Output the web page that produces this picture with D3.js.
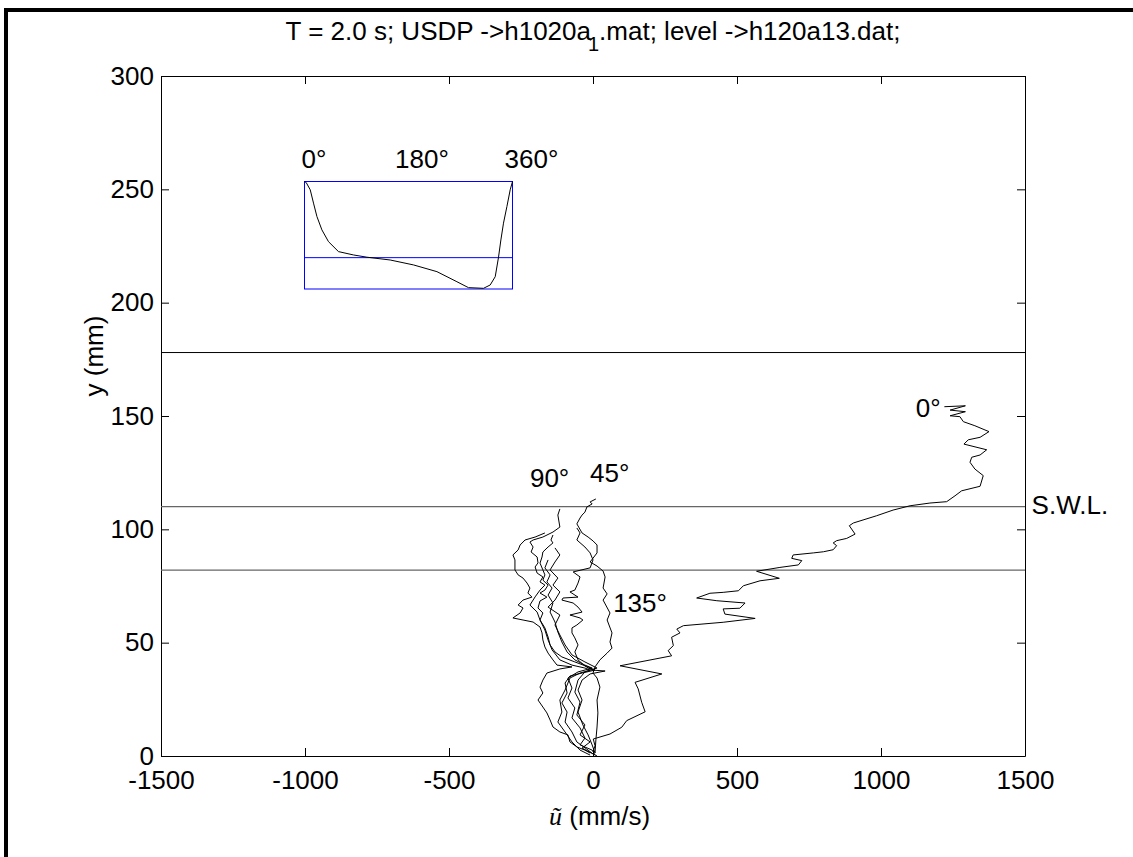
<!DOCTYPE html>
<html>
<head>
<meta charset="utf-8">
<script src="https://cdn.jsdelivr.net/npm/d3@7"></script>
<style>
  body { margin: 0; background: #fff; }
  text { font-family: Arial, "Liberation Sans", sans-serif; fill: #000; }
</style>
</head>
<body>
<div id="chart"></div>
<script>
// axis ticks
var uTicks = [-1500, -1000, -500, 0, 500, 1000, 1500];
var yTicks = [0, 50, 100, 150, 200, 250, 300];

// reference levels (mm): crest, still water level, trough
var crestLevel = 178;
var swlLevel = 110;
var troughLevel = 82;

// velocity profiles [u (mm/s), y (mm)]
var profile0 = [[1220,154.1],[1293,154.5],[1240,152.6],[1293,151.9],[1240,150.1],[1274,149.7],[1286,147.5],[1326,145.7],[1375,143.1],[1344,140.6],[1303,139.5],[1288,137.6],[1367,135.1],[1344,132.8],[1315,131.8],[1309,129.6],[1326,126.6],[1355,123.7],[1344,119.0],[1280,117.0],[1257,114.8],[1228,112.2],[1170,111.6],[1101,110.4],[1042,108.5],[985,106.0],[904,102.8],[890,101.6],[910,97.9],[881,96.0],[846,95.0],[834,94.0],[846,92.8],[834,91.0],[800,90.1],[765,89.6],[695,88.7],[690,87.2],[725,86.2],[713,84.3],[649,83.2],[568,81.5],[647,78.4],[580,77.3],[522,75.1],[505,72.9],[452,72.2],[406,71.8],[360,69.7],[430,68.5],[528,67.5],[510,65.2],[452,64.9],[458,62.6],[563,60.7],[452,59.0],[314,57.5],[291,56.0],[302,54.3],[273,52.4],[279,48.7],[261,46.5],[273,44.2],[94,39.8],[239,36.2],[146,32.5],[157,29.6],[169,23.7],[181,19.5],[117,15.6],[100,12.7],[59,9.7],[1,7.5],[7,4.5],[1,2.3]];
var profile45 = [[10,113.4],[-10,112.1],[-3,111.2],[-21,109.9],[-28,107.6],[-38,106.3],[-45,105],[-56,102.4],[-38,98.4],[-17,96.6],[0,94.9],[14,93.1],[14,89.6],[-10,85.6],[14,83.8],[35,81.6],[42,79],[35,74.1],[49,71.5],[35,68.8],[59,63.1],[49,60],[66,54.3],[59,50.3],[66,47.6],[49,45.4],[24,42.4],[7,39.3],[0,36.6],[14,34.4],[24,30.4],[14,24.7],[17,19],[14,12.8],[10,7.1],[7,1.3]];
var profile90 = [[-115,109],[-122,106.3],[-115,101],[-139,98.8],[-174,96.6],[-208,95.3],[-219,94.4],[-208,92.2],[-215,90],[-194,87.8],[-191,85.2],[-201,83.4],[-194,80.7],[-174,79],[-184,76.8],[-167,75.4],[-184,73.2],[-201,70.2],[-219,66.6],[-194,63.5],[-184,60],[-167,55.6],[-156,51.2],[-142,46.8],[-115,42.4],[-73,40.1],[-28,38.8],[-10,37.9],[-45,36.6],[-80,34.4],[-97,29.1],[-115,24.7],[-108,19.4],[-122,15],[-97,10.6],[-73,6.2],[-45,2.6],[-10,0.4]];
var profile135 = [[-56,100.6],[-45,98.4],[-56,95.3],[-28,92.2],[-10,89.6],[0,86.5],[-10,83],[-69,81.2],[-45,79],[-52,76.3],[-63,73.2],[-80,72.4],[-52,70.1],[-104,69.7],[-108,68.8],[-69,67.5],[-52,65.7],[-38,63.5],[-80,62.2],[-45,60.9],[-35,60],[-56,57.8],[-73,56.5],[-73,54.3],[-63,52.1],[-52,49],[-63,45.9],[-52,42.4],[-28,39.7],[-3,37.9],[42,37.5],[-10,36.2],[-38,33.5],[-52,29.1],[-38,24.7],[-52,19.4],[-35,13.7],[-17,9.3],[-3,4.9],[7,1.3]];
var profile180 = [[-139,97.5],[-146,95.3],[-139,94],[-156,92.2],[-174,90],[-177,87.8],[-184,85.1],[-174,82.1],[-167,79.9],[-174,77.6],[-156,75.4],[-167,73.2],[-184,71.9],[-160,70.1],[-184,68.4],[-191,65.3],[-174,63.1],[-184,60],[-167,56.5],[-156,52.5],[-149,49],[-132,45.9],[-108,43.7],[-63,41.5],[-17,39.3],[7,37.9],[-38,36.6],[-80,35.3],[-97,32.2],[-90,27.8],[-108,23.4],[-90,19.4],[-97,15],[-73,10.6],[-56,6.2],[-17,2.6],[0,0.9]];
var profile225 = [[-167,98.4],[-201,96.6],[-236,95.3],[-253,93.1],[-260,90.9],[-278,88.7],[-271,86.5],[-271,82.1],[-260,79.9],[-243,78.5],[-229,76.3],[-219,74.1],[-226,71.9],[-212,70.1],[-243,68.8],[-260,66.6],[-243,65.3],[-253,63.1],[-278,60.9],[-243,60],[-208,59.1],[-184,56.9],[-177,54.3],[-174,51.2],[-167,48.1],[-156,45.4],[-139,42.4],[-125,40.1],[-73,39.3],[-115,38.4],[-160,36.6],[-174,33.5],[-184,30.4],[-174,27.8],[-191,24.7],[-174,21.6],[-160,19],[-149,15.9],[-139,12.8],[-115,10.6],[-87,9.3],[-80,6.2],[-56,4],[-28,2.6],[-10,1.3]];
var profile270 = [[-156,86.5],[-167,83],[-149,79.9],[-160,76.8],[-142,74.1],[-156,71],[-139,67.5],[-149,63.5],[-132,59.1],[-122,54.7],[-108,50.3],[-90,45.9],[-63,42.4],[-28,40.1],[-3,38.8],[-52,37.1],[-87,34.4],[-73,30],[-87,25.6],[-63,21.2],[-73,16.8],[-45,12.4],[-28,7.9],[-45,4.9],[-3,2.6],[7,0.4]];
var profile315 = [[-132,91.8],[-115,88.7],[-132,85.6],[-149,82.1],[-122,78.5],[-139,75.4],[-115,72.4],[-132,68.8],[-156,65.7],[-115,62.2],[-132,57.8],[-115,53.4],[-97,49],[-73,44.6],[-28,41.5],[14,38.8],[-28,37.1],[-52,33.5],[-63,28.2],[-45,23.8],[-56,18.1],[-28,13.7],[-45,9.3],[-10,6.2],[-38,3.5],[14,0]];

var profiles = [profile0, profile45, profile90, profile135, profile180, profile225, profile270, profile315];

// phase labels placed in data coordinates
var profileLabels = [
  { text: "0\u00b0", u: 1121, y: 149.7 },
  { text: "90\u00b0", u: -219, y: 118.5 },
  { text: "45\u00b0", u: -10, y: 120.8 },
  { text: "135\u00b0", u: 70, y: 63.4 },
  { text: "S.W.L.", u: 1523, y: 106.8 }
];

// inset: surface elevation (mm) over one wave period (phase in degrees)
var insetPhase = [0, 2.9, 9.9, 15.6, 21.5, 30.1, 41.5, 58.8, 84.8, 108, 148.3, 188.7, 229.2, 263.8, 283.8, 309.8, 321.4, 330.1, 335.8, 339.9, 344.4, 350.3, 356, 360];
var insetEta = [178, 177.1, 170.6, 158.7, 146.7, 134.8, 124.3, 115.4, 112.4, 110.4, 107.9, 103.5, 97.5, 88.5, 83.2, 82.6, 85.6, 93, 110.4, 125.8, 140.8, 155.6, 170.6, 178];
var insetTickLabels = ["0\u00b0", "180\u00b0", "360\u00b0"];
var insetTickPhases = [0, 180, 360];

function ProfileChart(params) {
  var attrs = {
    container: '#chart',
    width: 1133,
    height: 857,
    fontSize: 26,
    margin: { top: 76, right: 108, bottom: 101, left: 161 }
  };
  attrs = Object.assign(attrs, params);

  function main() {
    var chartWidth = attrs.width - attrs.margin.left - attrs.margin.right;
    var chartHeight = attrs.height - attrs.margin.top - attrs.margin.bottom;

    var svg = d3.select(attrs.container).append('svg')
      .attr('width', attrs.width)
      .attr('height', attrs.height);

    // figure border (top and left only)
    svg.append('path')
      .attr('d', `M6,${attrs.height} V10 H${attrs.width}`)
      .attr('fill', 'none')
      .attr('stroke', '#000')
      .attr('stroke-width', 4);

    var chart = svg.append('g')
      .attr('transform', `translate(${attrs.margin.left},${attrs.margin.top})`);

    var x = d3.scaleLinear().domain([-1500, 1500]).range([0, chartWidth]);
    var y = d3.scaleLinear().domain([0, 300]).range([chartHeight, 0]);
    var plain = d => String(d);

    function styleAxis(g) {
      g.attr('font-family', null).attr('font-size', attrs.fontSize);
      g.selectAll('path, line').attr('stroke', '#000').attr('stroke-width', 1);
    }

    chart.append('g')
      .attr('transform', `translate(0,${chartHeight})`)
      .call(d3.axisBottom(x).tickValues(uTicks).tickFormat(plain).tickSizeInner(-8).tickSizeOuter(0).tickPadding(14.5))
      .call(styleAxis);
    chart.append('g')
      .call(d3.axisTop(x).tickValues(uTicks).tickSizeInner(-8).tickSizeOuter(0).tickFormat(''))
      .call(styleAxis);
    chart.append('g')
      .call(d3.axisLeft(y).tickValues(yTicks).tickFormat(plain).tickSizeInner(-8).tickSizeOuter(0).tickPadding(7))
      .call(styleAxis);
    chart.append('g')
      .attr('transform', `translate(${chartWidth},0)`)
      .call(d3.axisRight(y).tickValues(yTicks).tickSizeInner(-8).tickSizeOuter(0).tickFormat(''))
      .call(styleAxis);

    // level lines
    chart.selectAll('line.level')
      .data([crestLevel, swlLevel, troughLevel])
      .join('line')
      .attr('class', 'level')
      .attr('x1', 0).attr('x2', chartWidth)
      .attr('y1', d => y(d)).attr('y2', d => y(d))
      .attr('stroke', (d, i) => i === 0 ? '#000' : '#666')
      .attr('stroke-width', (d, i) => i === 0 ? 1 : 1.3);

    var line = d3.line().x(d => x(d[0])).y(d => y(d[1]));

    chart.selectAll('path.profile')
      .data(profiles)
      .join('path')
      .attr('class', 'profile')
      .attr('d', line)
      .attr('fill', 'none')
      .attr('stroke', '#000')
      .attr('stroke-width', 1);

    chart.selectAll('text.plabel')
      .data(profileLabels)
      .join('text')
      .attr('class', 'plabel')
      .attr('x', d => x(d.u))
      .attr('y', d => y(d.y))
      .attr('font-size', attrs.fontSize)
      .text(d => d.text);

    // inset
    var inset = svg.append('g').attr('transform', 'translate(304.5,181.5)');
    var iw = 208, ih = 107.5;
    var xi = d3.scaleLinear().domain([0, 360]).range([0, iw]);
    var yi = d3.scaleLinear().domain([troughLevel, crestLevel]).range([ih, 0]);

    inset.append('rect')
      .attr('width', iw).attr('height', ih)
      .attr('fill', 'none').attr('stroke', '#0000ff').attr('stroke-width', 1);
    inset.append('line')
      .attr('x1', 0).attr('x2', iw)
      .attr('y1', yi(swlLevel)).attr('y2', yi(swlLevel))
      .attr('stroke', '#0000ff').attr('stroke-width', 1);
    inset.append('path')
      .datum(d3.zip(insetPhase, insetEta))
      .attr('d', d3.line().x(d => xi(d[0])).y(d => yi(d[1])))
      .attr('fill', 'none').attr('stroke', '#000').attr('stroke-width', 1);

    var insetDx = [-3, -13.5, -8];
    inset.selectAll('text.itick')
      .data(insetTickLabels)
      .join('text')
      .attr('class', 'itick')
      .attr('x', (d, i) => xi(insetTickPhases[i]) + insetDx[i])
      .attr('y', -13.5)
      .attr('font-size', attrs.fontSize)
      .text(d => d);

    // title
    var title = svg.append('text')
      .attr('x', attrs.margin.left + chartWidth / 2)
      .attr('y', 39.5)
      .attr('text-anchor', 'middle')
      .attr('font-size', attrs.fontSize);
    title.append('tspan').text('T = 2.0 s; USDP ->h1020a');
    title.append('tspan').attr('dx', -3).attr('dy', 11).attr('font-size', 20).text('1');
    title.append('tspan').attr('dy', -11).text('.mat; level ->h120a13.dat;');

    // x label
    var xl = svg.append('text')
      .attr('x', 549)
      .attr('y', 824.5)
      .attr('font-size', attrs.fontSize);
    xl.append('tspan')
      .attr('font-family', '"Liberation Serif", "Times New Roman", serif')
      .attr('font-style', 'italic')
      .text('\u0169');
    xl.append('tspan').text(' (mm/s)');

    // y label
    svg.append('text')
      .attr('transform', 'translate(103,356) rotate(-90)')
      .attr('text-anchor', 'middle')
      .attr('font-size', attrs.fontSize)
      .text('y (mm)');
  }

  main.render = function () {
    main();
    return main;
  };

  return main;
}

ProfileChart().render();
</script>
</body>
</html>
